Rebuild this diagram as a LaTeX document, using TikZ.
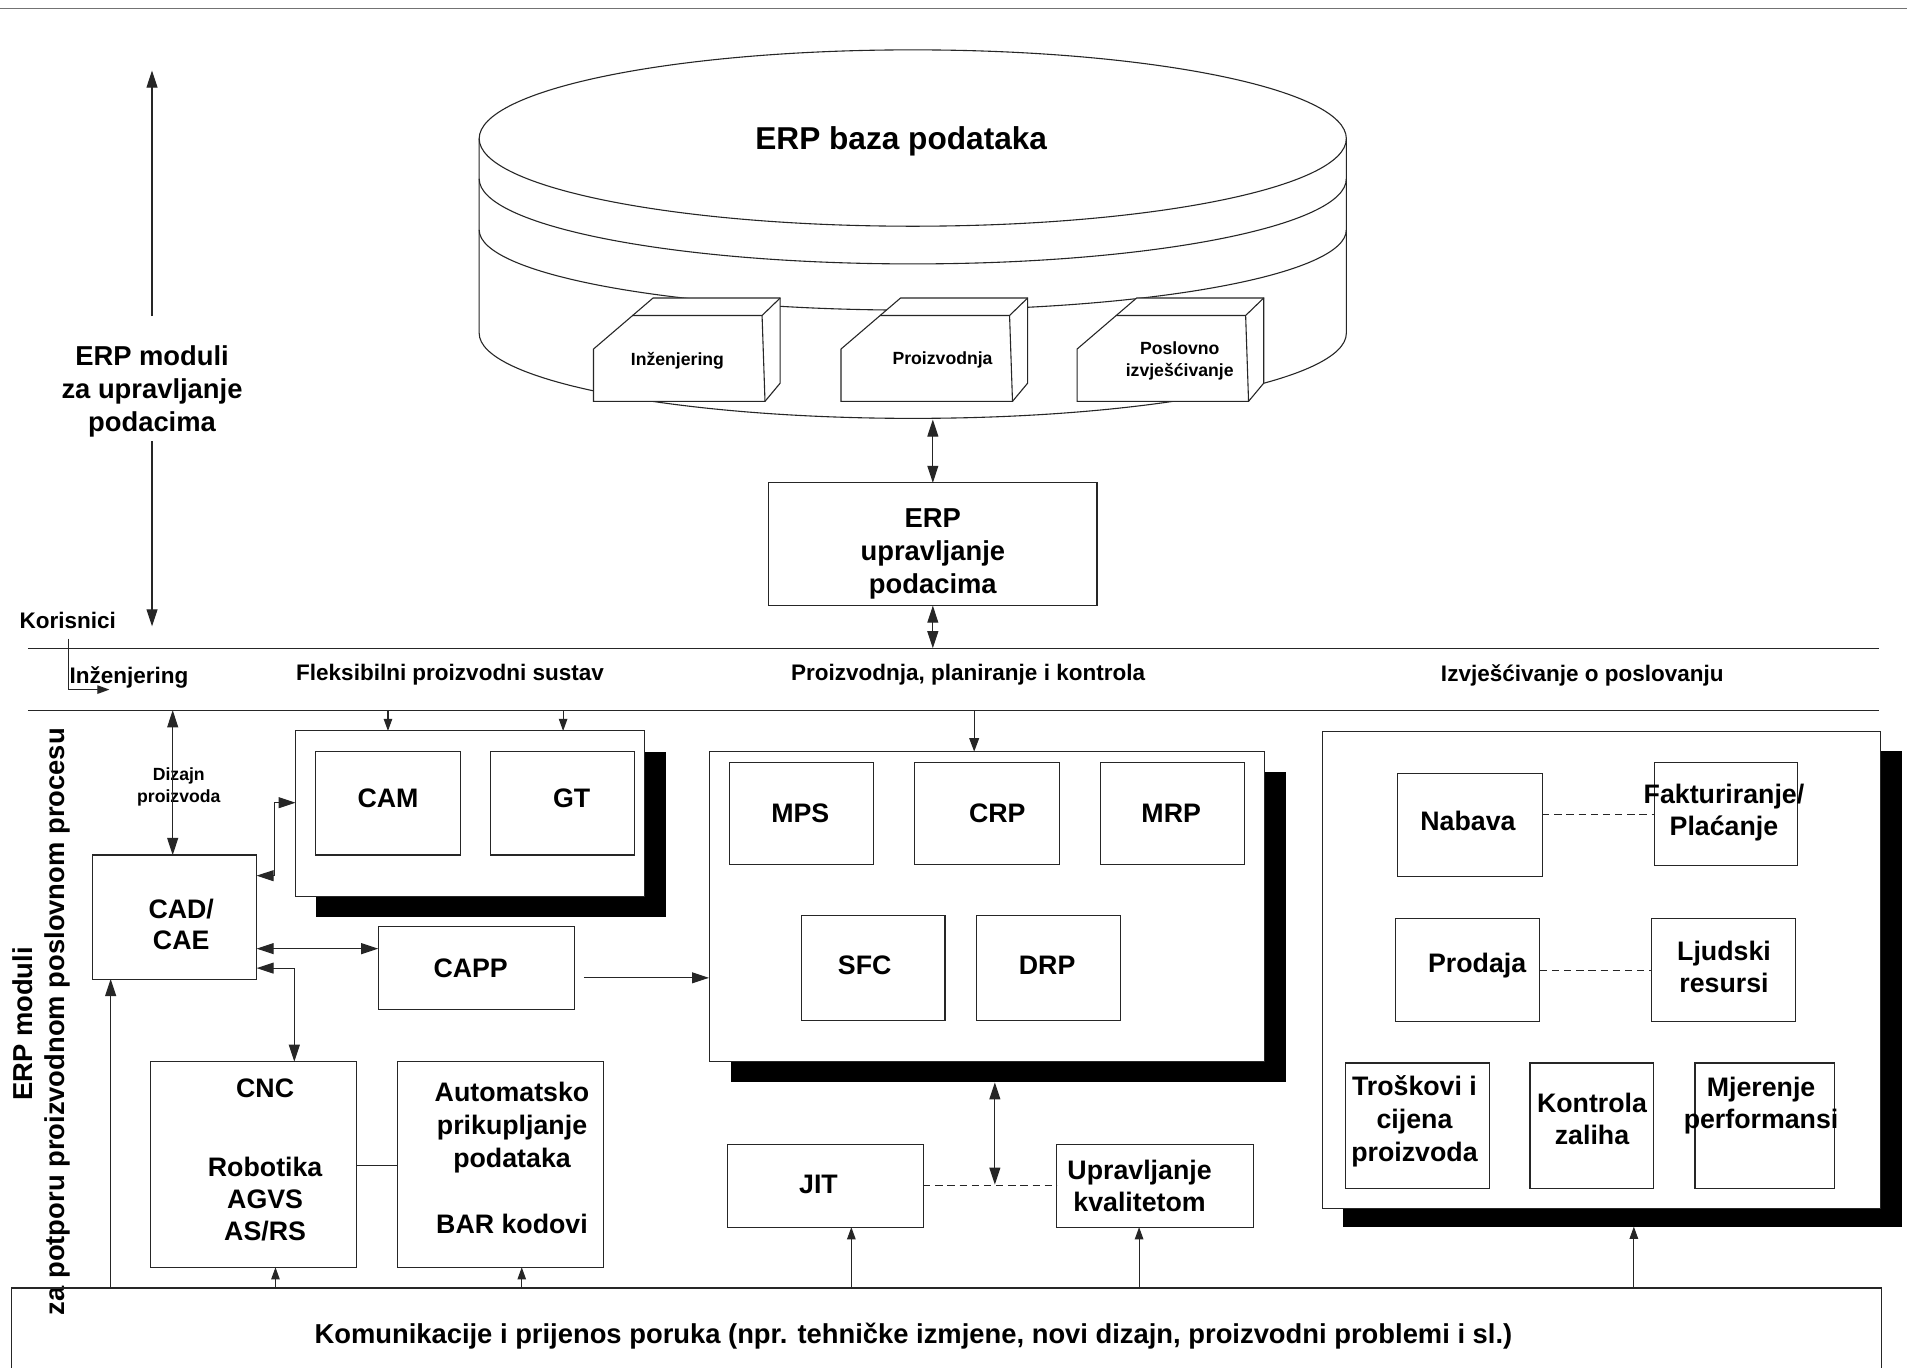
\documentclass[tikz,border=0pt]{standalone}
\usepackage{fontspec}
\setmainfont{Liberation Sans}
\usetikzlibrary{arrows.meta,fit}
\newcommand{\mybox}[5]{\node[box, fit={(#2,#3) (#4,#5)}] (#1) {};}
\newcommand{\myshadow}[5]{\node[shad, fit={(#2,#3) (#4,#5)}] (#1) {};}
\newcommand{\modbox}[1]{%
 \begin{scope}[shift={(#1,330)}]
  \draw[ln, fill=white] (0,0) -- (0,-43) -- (49,-85) -- (153.5,-85) -- (153.5,-15) -- (141,0) -- cycle;
  \draw[ln] (32,-70.6) -- (138.6,-70.6) -- (153.5,-85) (138.6,-70.6) -- (141,0);
 \end{scope}}
\begin{document}
\begin{tikzpicture}[x=1pt,y=-1pt,
 ln/.style={draw=black!85, line width=0.9pt},
 box/.style={ln, fill=white, inner sep=0pt, outer sep=0pt},
 shad/.style={fill=black, draw=none, inner sep=0pt, outer sep=0pt},
 big/.style={font=\bfseries\fontsize{22}{26}\selectfont, align=center, inner sep=0pt},
 sml/.style={font=\bfseries\fontsize{14.5}{18}\selectfont, align=center, inner sep=0pt},
 mid/.style={font=\bfseries\fontsize{18.5}{22}\selectfont, inner sep=0pt},
 arr/.style={ln, -{Triangle[length=14pt,width=9pt]}},
 dbl/.style={ln, {Triangle[length=14pt,width=9pt]}-{Triangle[length=14pt,width=9pt]}},
 sarr/.style={ln, -{Triangle[length=10pt,width=7pt]}},
 dsh/.style={ln, dash pattern=on 6pt off 4pt},
]
\useasboundingbox[fill=white] (0,0) rectangle (1568,1124);
% top rule
\draw[black!55, line width=1pt] (0,7) -- (1568,7);

% ---------- database cylinder ----------
\draw[ln, fill=white] (394,114) -- (394,274) arc[start angle=180,end angle=360,x radius=356.5pt,y radius=70pt] -- (1107,114) arc[start angle=0,end angle=180,x radius=356.5pt,y radius=73pt] -- cycle;
\draw[ln] (394,114) arc[start angle=180,end angle=360,x radius=356.5pt,y radius=72pt];
\draw[ln] (394,147) arc[start angle=180,end angle=360,x radius=356.5pt,y radius=70pt];
\draw[ln] (394,189) arc[start angle=180,end angle=360,x radius=356.5pt,y radius=66pt];
\node[font=\bfseries\fontsize{26}{30}\selectfont, inner sep=0pt] (dbtitle) at (741,116) {ERP baza podataka};
\coordinate (dbbot) at (767,345);

\modbox{488}
\modbox{691.5}
\modbox{885.6}
\node[sml] (m1) at (557,297) {Inženjering};
\node[sml] (m2) at (775,296) {Proizvodnja};
\node[sml] (m3) at (970,297) {Poslovno\\izvješćivanje};

% ---------- left vertical arrow ----------
\node[big, font=\bfseries\fontsize{22.5}{27}\selectfont] (erpmod) at (125,322) {ERP moduli\\za upravljanje\\podacima};
\coordinate (lt) at (125,58);
\coordinate (lu) at (125,260);
\coordinate (ld) at (125,363);
\coordinate (lb) at (125,515);
\draw[arr] (lu) -- (lt);
\draw[arr] (ld) -- (lb);

% ---------- ERP management box ----------
\mybox{erp}{632}{397}{902}{498}
\node[big, font=\bfseries\fontsize{22.5}{27}\selectfont] (erpt) at (767,455.5) {ERP\\upravljanje\\podacima};
\coordinate (band1) at (767,533);
\draw[dbl] (dbbot) -- (erp.north);
\draw[dbl] (erp.south) -- (band1);

% ---------- band ----------
\draw[ln] (23,533) -- (1545,533);
\draw[ln] (23,584) -- (1545,584);
\node[mid, anchor=west] (kor) at (16,510) {Korisnici};
\node[mid, anchor=west] (bing) at (57,557) {Inženjering};
\node[mid] (bfms) at (370,555) {Fleksibilni proizvodni sustav};
\node[mid] (bppc) at (796,555) {Proizvodnja, planiranje i kontrola};
\node[mid] (bbus) at (1301,555) {Izvješćivanje o poslovanju};
\coordinate (k1) at (56.5,525);
\coordinate (k2) at (90,567);
\draw[sarr] (k1) |- (k2);

% ---------- vertical side text ----------
\node[big, font=\bfseries\fontsize{22.5}{27}\selectfont, rotate=90] (side1) at (19,842) {ERP moduli};
\node[big, font=\bfseries\fontsize{22.5}{27}\selectfont, rotate=90] (side2) at (47,840) {za potporu proizvodnom poslovnom procesu};

% ---------- communication box ----------
\draw[ln] (9.5,1130) -- (9.5,1059) -- (1547,1059) -- (1547,1130);
\node[font=\bfseries\fontsize{22.5}{27}\selectfont, inner sep=0pt] (comm) at (751,1099) {Komunikacije i prijenos poruka (npr. tehničke izmjene, novi dizajn, proizvodni problemi i sl.)};

% ---------- CAD/CAE ----------
\mybox{cad}{76}{703}{211}{805}
\node[big] (cadt) at (149,760) {CAD/\\CAE};
\node[sml] (diz) at (147,647) {Dizajn\\proizvoda};
\coordinate (b1) at (142,584);
\draw[dbl] (b1) -- (b1 |- cad.north);
\coordinate (c0) at (91,1059);
\draw[arr] (c0) -- (c0 |- cad.south);

% ---------- FMS ----------
\myshadow{fmssh}{260}{618}{548}{754}
\mybox{fms}{243}{601}{530}{737}
\mybox{cam}{259.5}{618}{378.5}{703}
\mybox{gt}{403.4}{618}{522}{703}
\node[big] (camt) at (319,656) {CAM};
\node[big] (gtt) at (470,656) {GT};
\coordinate (f1) at (319,584);
\coordinate (f2) at (463,584);
\draw[sarr] (f1) -- (f1 |- fms.north);
\draw[sarr] (f2) -- (f2 |- fms.north);
\coordinate (e1) at (243,660);
\coordinate (e2) at (226,660);
\coordinate (e3) at (211,720);
\draw[dbl] (e1) -- (e2) |- (e3);

% ---------- CAPP ----------
\mybox{capp}{311}{762}{472}{830}
\node[big] (cappt) at (387,796) {CAPP};
\coordinate (p1) at (211,780);
\draw[dbl] (p1) -- (p1 -| capp.west);
\coordinate (p2) at (480,804);
\coordinate (p3) at (583,804);
\draw[arr] (p2) -- (p3);

% ---------- CNC / Automatsko ----------
\mybox{cnc}{124}{873}{293}{1042}
\mybox{auto}{327}{873}{496}{1042}
\node[big] (cnct) at (218,895) {CNC};
\node[big] (robt) at (218,986) {Robotika\\AGVS\\AS/RS};
\node[big, font=\bfseries\fontsize{22}{27}\selectfont] (autot) at (421,927) {Automatsko\\prikupljanje\\podataka};
\node[big] (bart) at (421,1006) {BAR kodovi};
\draw[ln] (cnc.east |- 0,958) -- (auto.west |- 0,958);
\coordinate (g1) at (211,796);
\coordinate (g2) at (242,873);
\draw[dbl] (g1) -| (g2);
\coordinate (u1) at (226.5,1059);
\coordinate (u2) at (429,1059);
\draw[sarr] (u1) -- (u1 |- cnc.south);
\draw[sarr] (u2) -- (u2 |- auto.south);

% ---------- PPC ----------
\myshadow{ppcsh}{600.7}{635}{1057.6}{890}
\mybox{ppc}{583}{618}{1040}{873}
\coordinate (q1) at (801,584);
\draw[ln, -{Triangle[length=11pt,width=8pt]}] (q1) -- (q1 |- ppc.north);
\mybox{mps}{600}{627}{718}{711}
\mybox{crp}{752}{627}{871}{711}
\mybox{mrp}{905}{627}{1023}{711}
\mybox{sfc}{659}{753}{777}{839}
\mybox{drp}{803}{753}{921.5}{839}
\node[big] (mpst) at (658,669) {MPS};
\node[big] (crpt) at (820,669) {CRP};
\node[big] (mrpt) at (963,669) {MRP};
\node[big] (sfct) at (711,794) {SFC};
\node[big] (drpt) at (861,794) {DRP};

% ---------- JIT / Quality ----------
\mybox{jit}{598}{941}{759}{1009}
\mybox{qual}{869}{941}{1031}{1009}
\node[big] (jitt) at (673,974) {JIT};
\node[big] (qualt) at (937,975) {Upravljanje\\kvalitetom};
\draw[dsh] (jit.east) -- (qual.west);
\coordinate (j1) at (818,890);
\coordinate (j2) at (818,974);
\draw[dbl] (j1) -- (j2);
\coordinate (u3) at (700,1059);
\coordinate (u4) at (936.6,1059);
\draw[sarr] (u3) -- (u3 |- jit.south);
\draw[sarr] (u4) -- (u4 |- qual.south);

% ---------- business ----------
\myshadow{bussh}{1104}{617.3}{1564}{1008.6}
\mybox{bus}{1087.4}{601.5}{1546}{993.7}
\coordinate (u5) at (1343.4,1059);
\draw[sarr] (u5) -- (u5 |- bussh.south);
\mybox{nab}{1149}{636}{1268}{721}
\mybox{fak}{1360}{627}{1478}{712}
\mybox{pro}{1147.5}{755}{1266}{840}
\mybox{lju}{1358}{755}{1476}{840}
\mybox{tro}{1106}{874}{1224.6}{977}
\mybox{kon}{1258}{874}{1359.6}{977}
\mybox{mje}{1393.7}{874}{1508.2}{977}
\node[big] (nabt) at (1207,675) {Nabava};
\node[big] (fakt) at (1417.5,668) {Fakturiranje/\\Plaćanje};
\node[big] (prot) at (1214.6,794) {Prodaja};
\node[big] (ljut) at (1417.5,795) {Ljudski\\resursi};
\node[big, font=\bfseries\fontsize{22}{27}\selectfont] (trot) at (1163,922) {Troškovi i\\cijena\\proizvoda};
\node[big] (kont) at (1309,920) {Kontrola\\zaliha};
\node[big, font=\bfseries\fontsize{22}{27}\selectfont] (mjet) at (1448,909) {Mjerenje\\performansi};
\draw[dsh] (nab.east |- 0,670) -- (fak.west |- 0,670);
\draw[dsh] (pro.east |- 0,797.6) -- (lju.west |- 0,797.6);
\end{tikzpicture}
\end{document}
